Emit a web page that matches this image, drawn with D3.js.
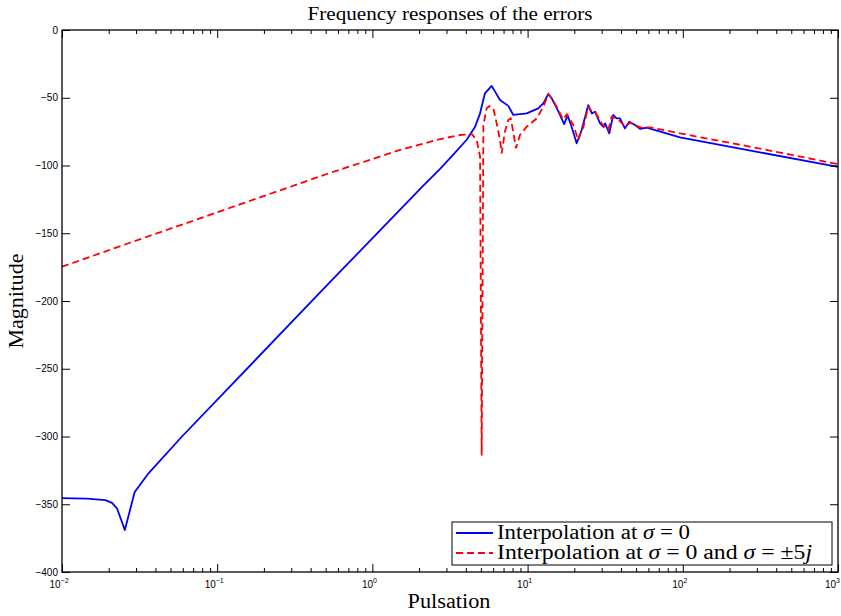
<!DOCTYPE html>
<html>
<head>
<meta charset="utf-8">
<script src="https://cdn.jsdelivr.net/npm/d3@7/dist/d3.min.js"></script>
<style>
  html, body { margin: 0; padding: 0; background: #fff; }
  svg { display: block; }
</style>
</head>
<body>
<svg id="chart" width="841" height="616"></svg>
<script>
// ---- Data ----
const blueX = [0.01, 0.0145, 0.019, 0.021, 0.0226, 0.0254, 0.0294, 0.0362, 0.0593, 0.55, 2.09, 2.73, 3.32, 4.05, 4.59, 4.94, 5.31, 5.87, 6.17, 6.64, 7.51, 8.09, 9.87, 11.72, 12.62, 13.6, 14.3, 15.8, 17.2, 18.1, 19.2, 20.7, 22.3, 24.6, 25.9, 27.2, 29.3, 30.8, 31.6, 33.6, 35.6, 37.5, 39.4, 42.4, 45.2, 49.2, 53.0, 58.5, 95.9, 314, 1000];
const blueY = [-345.5, -345.8, -347, -349, -353, -369, -341, -327, -300, -184.5, -115.7, -102.5, -92, -81, -71.4, -61.5, -46.7, -41.3, -45.5, -51.7, -56, -62.7, -61.5, -57.8, -54.1, -47.2, -50.4, -60.3, -69.5, -63, -71.4, -83.6, -73.8, -55.4, -61.5, -60.3, -68.9, -71.4, -68.9, -76.3, -62.7, -65.2, -65.2, -72.6, -67.7, -70.1, -73, -72.1, -79.2, -90.3, -101];

const redX = [0.01, 0.0274, 0.0723, 0.1945, 0.522, 1.51, 2.73, 3.66, 4.37, 4.70, 4.94, 5.06, 5.19, 5.45, 5.66, 6.01, 6.32, 6.64, 6.81, 7.14, 7.51, 7.78, 8.01, 8.41, 8.93, 9.87, 11.45, 12.62, 13.6, 14.3, 15.8, 16.9, 17.9, 19.7, 21.2, 22.9, 24.6, 25.9, 27.2, 30.0, 33.1, 34.8, 38.4, 42.4, 45.7, 53.0, 61.5, 95.9, 314, 1000];
const redY = [-174.7, -157, -140.2, -123, -105.8, -88.5, -80.5, -77.5, -76.8, -81.2, -93.5, -314, -70, -57.8, -56.1, -57.8, -68.9, -81.2, -91, -75, -66.4, -65.2, -72.6, -87.3, -77.5, -71.4, -65.2, -56.6, -47.2, -50.5, -59, -66, -62.2, -70.1, -81.2, -71.4, -56.6, -60, -60.3, -68.9, -73.8, -64, -65.9, -71.4, -68.4, -71.8, -71.8, -76.3, -87.5, -99];

const xMajorTicks = [0.01, 0.1, 1, 10, 100, 1000];
const xMajorExp = ["\u22122", "\u22121", "0", "1", "2", "3"];
const yTicks = [-400, -350, -300, -250, -200, -150, -100, -50, 0];

const titleText = "Frequency responses of the errors";
const xLabelText = "Pulsation";
const yLabelText = "Magnitude";

// ---- Layout ----
const svg = d3.select("#chart");
const L = 62, R = 838, T = 30, B = 572;

const x = d3.scaleLog().domain([0.01, 1000]).range([L, R]);
const y = d3.scaleLinear().domain([-400, 0]).range([B, T]);

const xMinor = [];
for (let e = -2; e < 3; e++) for (let k = 2; k <= 9; k++) xMinor.push(k * Math.pow(10, e));

const tickFont = "'Liberation Sans', Arial, Helvetica, sans-serif";
const serif = "'Liberation Serif', 'Times New Roman', serif";

svg.append("rect").attr("x", L).attr("y", T).attr("width", R - L).attr("height", B - T).attr("fill", "#fff");

// lines
const line = d3.line().x(d => x(d[0])).y(d => y(d[1]));
const blue = blueX.map((v, i) => [v, blueY[i]]);
const red = redX.map((v, i) => [v, redY[i]]);

svg.append("clipPath").attr("id", "clip").append("rect")
  .attr("x", L).attr("y", T).attr("width", R - L).attr("height", B - T);

const plot = svg.append("g").attr("clip-path", "url(#clip)");
plot.append("path").datum(blue).attr("d", line).attr("fill", "none")
  .attr("stroke", "#0000ff").attr("stroke-width", 1.8).attr("stroke-linejoin", "round");
plot.append("path").datum(red).attr("d", line).attr("fill", "none")
  .attr("stroke", "#ff0000").attr("stroke-width", 1.8).attr("stroke-dasharray", "7,4");

// axes
function styleAxis(g) {
  g.select(".domain").remove();
  g.selectAll(".tick line").attr("stroke", "#000").attr("stroke-width", 1);
}
svg.append("g").attr("transform", `translate(0,${B})`)
  .call(d3.axisBottom(x).tickValues(xMajorTicks).tickSize(-8).tickFormat(() => "")).call(styleAxis);
svg.append("g").attr("transform", `translate(0,${B})`)
  .call(d3.axisBottom(x).tickValues(xMinor).tickSize(-4).tickFormat(() => "")).call(styleAxis);
svg.append("g").attr("transform", `translate(0,${T})`)
  .call(d3.axisTop(x).tickValues(xMajorTicks).tickSize(-8).tickFormat(() => "")).call(styleAxis);
svg.append("g").attr("transform", `translate(0,${T})`)
  .call(d3.axisTop(x).tickValues(xMinor).tickSize(-4).tickFormat(() => "")).call(styleAxis);

// x labels with superscript
const xl = svg.append("g");
xMajorTicks.forEach((v, i) => {
  const last = i === xMajorTicks.length - 1;
  const t = xl.append("text").attr("x", last ? 840 : x(v) - 3).attr("y", B + 16)
    .attr("text-anchor", last ? "end" : "middle").attr("font-family", tickFont).attr("font-size", 10).attr("fill", "#000");
  t.append("tspan").text("10");
  t.append("tspan").attr("font-size", 7).attr("dy", -5).text(xMajorExp[i]);
});

// y axes
const gyl = svg.append("g").attr("transform", `translate(${L},0)`)
  .call(d3.axisLeft(y).tickValues(yTicks).tickSize(-8).tickPadding(4).tickFormat(d => d === 0 ? "0" : "\u2212" + Math.abs(d)));
styleAxis(gyl);
gyl.selectAll(".tick text").attr("font-family", tickFont).attr("font-size", 10).attr("fill", "#000");
svg.append("g").attr("transform", `translate(${R},0)`)
  .call(d3.axisRight(y).tickValues(yTicks).tickSize(-8).tickFormat(() => "")).call(styleAxis);

// frame
svg.append("rect").attr("x", L).attr("y", T).attr("width", R - L).attr("height", B - T)
  .attr("fill", "none").attr("stroke", "#000").attr("stroke-width", 1.3);

// title and labels
svg.append("text").attr("x", (L + R) / 2).attr("y", 20).attr("text-anchor", "middle")
  .attr("font-family", serif).attr("font-size", 18).attr("fill", "#000")
  .attr("textLength", 285).attr("lengthAdjust", "spacingAndGlyphs").text(titleText);
svg.append("text").attr("x", (L + R) / 2 - 1).attr("y", 608).attr("text-anchor", "middle")
  .attr("font-family", serif).attr("font-size", 20).attr("fill", "#000")
  .attr("textLength", 83).attr("lengthAdjust", "spacingAndGlyphs").text(xLabelText);
svg.append("text").attr("transform", `translate(23,${(T + B) / 2}) rotate(-90)`).attr("text-anchor", "middle")
  .attr("font-family", serif).attr("font-size", 20).attr("fill", "#000")
  .attr("textLength", 95).attr("lengthAdjust", "spacingAndGlyphs").text(yLabelText);

// legend
const lg = svg.append("g");
lg.append("rect").attr("x", 452).attr("y", 522).attr("width", 380).attr("height", 43)
  .attr("fill", "#fff").attr("stroke", "#000").attr("stroke-width", 1);
const legendItems = [
  { color: "#0000ff", dash: null, width: 193, parts: [["Interpolation at ", false], ["\u03c3", true], [" = 0", false]] },
  { color: "#ff0000", dash: "7,4", width: 315, parts: [["Interpolation at ", false], ["\u03c3", true], [" = 0 and ", false], ["\u03c3", true], [" = \u00b15", false], ["j", true]] }
];
legendItems.forEach((it, i) => {
  const yy = 533 + i * 20;
  const ln = lg.append("line").attr("x1", 456).attr("x2", 493).attr("y1", yy).attr("y2", yy)
    .attr("stroke", it.color).attr("stroke-width", 1.8);
  if (it.dash) ln.attr("stroke-dasharray", it.dash);
  const t = lg.append("text").attr("x", 497).attr("y", yy + 6).attr("font-family", serif)
    .attr("font-size", 20).attr("fill", "#000")
    .attr("textLength", it.width).attr("lengthAdjust", "spacingAndGlyphs");
  it.parts.forEach(p => {
    const s = t.append("tspan").text(p[0]);
    if (p[1]) s.attr("font-style", "italic");
  });
});
</script>
</body>
</html>
